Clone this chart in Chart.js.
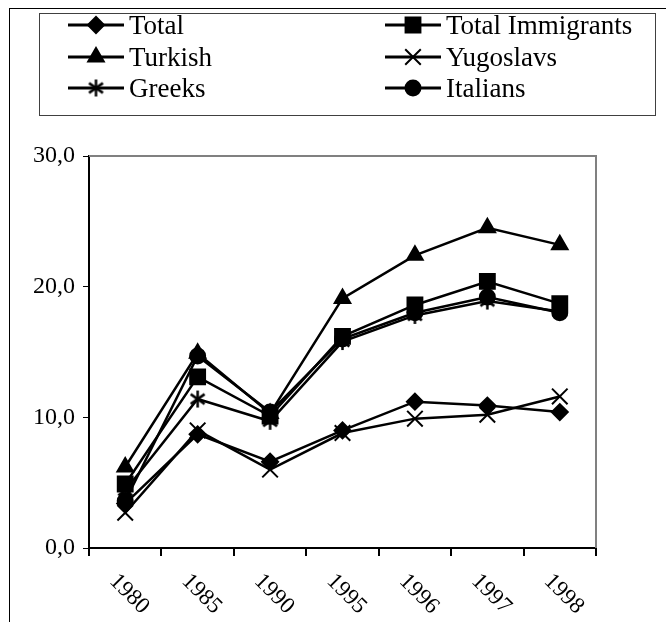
<!DOCTYPE html>
<html>
<head>
<meta charset="utf-8">
<script src="https://cdn.jsdelivr.net/npm/chart.js@4.4.1/dist/chart.umd.min.js"></script>
<style>
  html, body { margin: 0; padding: 0; background: #ffffff; }
  #wrap { width: 666px; height: 622px; position: relative; }
</style>
</head>
<body>
<div id="wrap"><canvas id="c" width="666" height="622"></canvas></div>
<script>
// Years on the category axis
const years = ['1980', '1985', '1990', '1995', '1996', '1997', '1998'];

// Rates per group, one value per year
const total           = [3.4, 8.7, 6.6, 9.0, 11.2, 10.9, 10.4];
const totalImmigrants = [4.9, 13.1, 10.1, 16.2, 18.6, 20.4, 18.7];
const turkish         = [6.2, 14.9, 10.3, 19.1, 22.4, 24.5, 23.2];
const yugoslavs       = [2.7, 9.0, 6.0, 8.8, 9.9, 10.2, 11.6];
const greeks          = [4.4, 11.4, 9.7, 15.8, 17.8, 18.9, 18.1];
const italians        = [3.6, 14.7, 10.4, 16.0, 18.0, 19.2, 18.0];

// Value axis ticks
const yTicks = [0, 10, 20, 30];

const SERIF = '"Liberation Serif", "Times New Roman", serif';

// Six-armed asterisk marker
function asteriskMarker(size) {
  const cv = document.createElement('canvas');
  cv.width = size; cv.height = size;
  const g = cv.getContext('2d');
  const c = size / 2, r = size / 2 - 1;
  g.strokeStyle = '#000'; g.lineWidth = 2.5; g.lineCap = 'butt';
  [90, 35, -35].forEach(a => {
    const t = a * Math.PI / 180;
    g.beginPath();
    g.moveTo(c - Math.cos(t) * r, c - Math.sin(t) * r);
    g.lineTo(c + Math.cos(t) * r, c + Math.sin(t) * r);
    g.stroke();
  });
  return cv;
}
const asterisk = asteriskMarker(19);

function series(label, data, style, radius, idx) {
  return {
    label, data,
    borderColor: '#000', backgroundColor: '#000',
    borderWidth: 2.5,
    pointStyle: style, pointRadius: radius, pointHoverRadius: radius,
    pointBorderWidth: 2, pointBorderColor: '#000', pointBackgroundColor: '#000',
    tension: 0, fill: false,
    order: 10 - idx
  };
}

const datasets = [
  series('Total', total, 'rectRot', 8, 0),
  series('Total Immigrants', totalImmigrants, 'rect', 10.5, 1),
  series('Turkish', turkish, 'triangle', 9, 2),
  series('Yugoslavs', yugoslavs, 'crossRot', 11, 3),
  series('Greeks', greeks, asterisk, 9, 4),
  series('Italians', italians, 'circle', 7.5, 5)
];

// Outer frame, boxed two-column legend, plot border and slanted year labels
const decorations = {
  id: 'decorations',
  afterDraw(chart) {
    const ctx = chart.ctx;
    const area = chart.chartArea;
    ctx.save();

    // outer frame
    ctx.strokeStyle = '#000';
    ctx.lineWidth = 1;
    ctx.strokeRect(9.5, 8.5, 720, 720);

    // top and right edges of the plot area
    ctx.strokeStyle = '#808080';
    ctx.lineWidth = 2;
    ctx.beginPath();
    ctx.moveTo(area.left, area.top);
    ctx.lineTo(area.right, area.top);
    ctx.lineTo(area.right, area.bottom);
    ctx.stroke();

    // legend box
    ctx.strokeStyle = '#404040';
    ctx.lineWidth = 1;
    ctx.strokeRect(39.5, 13.5, 616, 102);

    const colX = [68, 385];
    const rowY = [25, 57, 88];
    ctx.font = '27px ' + SERIF;
    ctx.textBaseline = 'middle';
    ctx.textAlign = 'left';
    chart.data.datasets.forEach((ds, i) => {
      const x0 = colX[i % 2];
      const y = rowY[Math.floor(i / 2)];
      ctx.strokeStyle = '#000';
      ctx.lineWidth = 3;
      ctx.beginPath();
      ctx.moveTo(x0, y);
      ctx.lineTo(x0 + 56, y);
      ctx.stroke();
      ctx.fillStyle = '#000';
      ctx.lineWidth = 2;
      Chart.helpers.drawPoint(ctx, {
        pointStyle: ds.pointStyle,
        radius: ds.pointRadius,
        rotation: 0,
        borderWidth: 2
      }, x0 + 28, y);
      ctx.fillStyle = '#000';
      ctx.fillText(ds.label, x0 + 61, y + 2);
    });

    // slanted year labels
    const xs = chart.scales.x;
    ctx.font = '23px ' + SERIF;
    ctx.fillStyle = '#000';
    ctx.textAlign = 'center';
    ctx.textBaseline = 'middle';
    years.forEach((lab, i) => {
      const x = xs.getPixelForValue(i);
      ctx.save();
      ctx.translate(x + 4, area.bottom + 46);
      ctx.rotate(Math.PI / 4);
      ctx.fillText(lab, 0, 0);
      ctx.restore();
    });

    ctx.restore();
  }
};

new Chart(document.getElementById('c'), {
  type: 'line',
  data: { labels: years, datasets },
  options: {
    responsive: false,
    animation: false,
    events: [],
    layout: { padding: { left: 0, right: 70, top: 156, bottom: 0 } },
    plugins: { legend: { display: false }, tooltip: { enabled: false }, title: { display: false } },
    scales: {
      x: {
        type: 'category',
        offset: true,
        grid: {
          offset: true,
          drawOnChartArea: false,
          drawTicks: true,
          tickLength: 8,
          color: '#000',
          lineWidth: 2
        },
        border: { display: true, color: '#000', width: 2 },
        ticks: { color: 'rgba(0,0,0,0)', maxRotation: 0, minRotation: 0, autoSkip: false, font: { size: 12 } },
        afterFit(scale) { scale.height = 74; }
      },
      y: {
        min: yTicks[0],
        max: yTicks[yTicks.length - 1],
        afterBuildTicks(scale) { scale.ticks = yTicks.map(v => ({ value: v })); },
        grid: {
          drawOnChartArea: false,
          drawTicks: true,
          tickLength: 6,
          color: '#000',
          lineWidth: 1
        },
        border: { display: true, color: '#000', width: 2 },
        ticks: {
          color: '#000',
          padding: 8,
          font: { family: SERIF, size: 24 },
          callback: v => v.toFixed(1).replace('.', ',')
        },
        afterFit(scale) { scale.width = 89; }
      }
    }
  },
  plugins: [decorations]
});
</script>
</body>
</html>
